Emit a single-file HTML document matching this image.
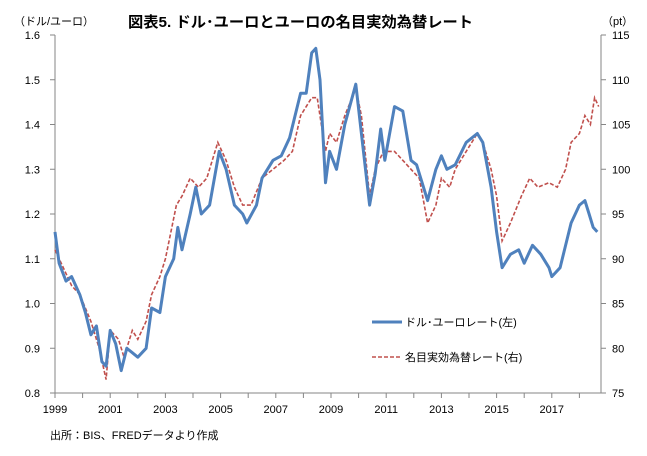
<!DOCTYPE html>
<html><head><meta charset="utf-8"><style>
body{margin:0;background:#fff;width:647px;height:451px;overflow:hidden}
svg text{font-family:"Liberation Sans","Noto Sans CJK JP",sans-serif;fill:#000}
</style></head><body>
<svg id="s" width="647" height="451" xmlns="http://www.w3.org/2000/svg">
<text x="128" y="27" font-size="15" font-weight="bold" textLength="345" lengthAdjust="spacingAndGlyphs">図表5. ドル･ユーロとユーロの名目実効為替レート</text>
<text x="14" y="25" font-size="11">（ドル/ユーロ）</text>
<text x="602" y="25" font-size="11">（pt）</text>
<text x="50" y="439" font-size="11">出所：BIS、FREDデータより作成</text>
<g id="ax" stroke="#868686" stroke-width="1" fill="none"></g>
<g id="lab" font-size="11"></g>
<polyline id="red" fill="none" stroke="#c0504d" stroke-width="1.6" stroke-dasharray="4,2"/>
<polyline id="blue" fill="none" stroke="#4f81bd" stroke-width="3" stroke-linejoin="round"/>
<line x1="372" y1="322" x2="402" y2="322" stroke="#4f81bd" stroke-width="3"/>
<text x="405" y="326" font-size="11">ドル･ユーロレート(左)</text>
<line x1="372" y1="357" x2="402" y2="357" stroke="#c0504d" stroke-width="1.6" stroke-dasharray="4,2"/>
<text x="405" y="361" font-size="11">名目実効為替レート(右)</text>
</svg>
<script>
var X=function(t){return 55+(t-1999)*27.6};
var YL=function(v){return 393-(v-0.8)*447.5};
var YR=function(v){return 393-(v-75)*8.95};
var ax=document.getElementById('ax'),lab=document.getElementById('lab'),h='',l='';
h+='<line x1="55" y1="35" x2="55" y2="393"/><line x1="601" y1="35" x2="601" y2="393"/><line x1="55" y1="393" x2="601" y2="393"/>';
for(var i=0;i<=8;i++){var y=393-i*44.75;h+='<line x1="50" y1="'+y+'" x2="55" y2="'+y+'"/><line x1="601" y1="'+y+'" x2="606" y2="'+y+'"/>';
l+='<text x="40" y="'+(y+4)+'" text-anchor="end">'+(0.8+i*0.1).toFixed(1)+'</text><text x="612" y="'+(y+4)+'">'+(75+i*5)+'</text>';}
for(var k=0;k<=19;k++){var x=X(1999+k);h+='<line x1="'+x+'" y1="393" x2="'+x+'" y2="398"/>';if(k%2==0&&k<=18)l+='<text x="'+x+'" y="413" text-anchor="middle">'+(1999+k)+'</text>';}
ax.innerHTML=h;lab.innerHTML=l;
var b=[1999.0,1.16,1999.15,1.09,1999.4,1.05,1999.6,1.06,1999.9,1.02,2000.1,0.98,2000.3,0.93,2000.5,0.95,2000.7,0.87,2000.85,0.86,2001.0,0.94,2001.2,0.91,2001.4,0.85,2001.6,0.90,2001.8,0.89,2002.0,0.88,2002.3,0.90,2002.5,0.99,2002.8,0.98,2003.0,1.06,2003.3,1.10,2003.45,1.17,2003.6,1.12,2003.9,1.20,2004.1,1.26,2004.3,1.20,2004.6,1.22,2004.95,1.34,2005.2,1.30,2005.5,1.22,2005.8,1.20,2005.95,1.18,2006.3,1.22,2006.5,1.28,2006.9,1.32,2007.2,1.33,2007.5,1.37,2007.9,1.47,2008.1,1.47,2008.3,1.56,2008.45,1.57,2008.6,1.50,2008.8,1.27,2008.95,1.34,2009.2,1.30,2009.5,1.40,2009.9,1.49,2010.1,1.38,2010.4,1.22,2010.6,1.29,2010.8,1.39,2010.95,1.32,2011.3,1.44,2011.6,1.43,2011.9,1.32,2012.1,1.31,2012.5,1.23,2012.8,1.30,2013.0,1.33,2013.2,1.30,2013.5,1.31,2013.9,1.36,2014.3,1.38,2014.5,1.36,2014.8,1.26,2015.0,1.16,2015.2,1.08,2015.5,1.11,2015.8,1.12,2016.0,1.09,2016.3,1.13,2016.6,1.11,2016.9,1.08,2017.0,1.06,2017.3,1.08,2017.5,1.13,2017.7,1.18,2018.0,1.22,2018.2,1.23,2018.35,1.20,2018.5,1.17,2018.65,1.16];
var r=[1999.0,91,1999.3,89,1999.6,87,1999.9,86,2000.3,83,2000.6,80,2000.85,76.5,2001.0,82,2001.3,81,2001.5,79,2001.8,82,2002.0,81,2002.3,83,2002.5,86,2002.8,88,2003.0,90,2003.4,96,2003.6,97,2003.9,99,2004.2,98,2004.5,99,2004.9,103,2005.2,101,2005.5,98,2005.8,96,2006.1,96,2006.5,99,2006.9,100,2007.3,101,2007.6,102,2007.9,106,2008.3,108,2008.5,108,2008.8,102,2008.95,104,2009.2,103,2009.5,106,2009.9,109,2010.1,106,2010.4,97,2010.6,100,2010.9,102,2011.3,102,2011.6,101,2011.9,100,2012.2,99,2012.5,94,2012.8,96,2013.0,99,2013.3,98,2013.5,100,2013.9,102,2014.3,104,2014.5,103,2014.8,100,2015.0,97,2015.2,92,2015.5,94,2015.9,97,2016.2,99,2016.5,98,2016.9,98.5,2017.2,98,2017.5,100,2017.7,103,2018.0,104,2018.2,106,2018.4,105,2018.55,108,2018.7,107];
function pts(a,f){var s='';for(var i=0;i<a.length;i+=2)s+=X(a[i]).toFixed(1)+','+f(a[i+1]).toFixed(1)+' ';return s}
document.getElementById('blue').setAttribute('points',pts(b,YL));
document.getElementById('red').setAttribute('points',pts(r,YR));
</script>
</body></html>
